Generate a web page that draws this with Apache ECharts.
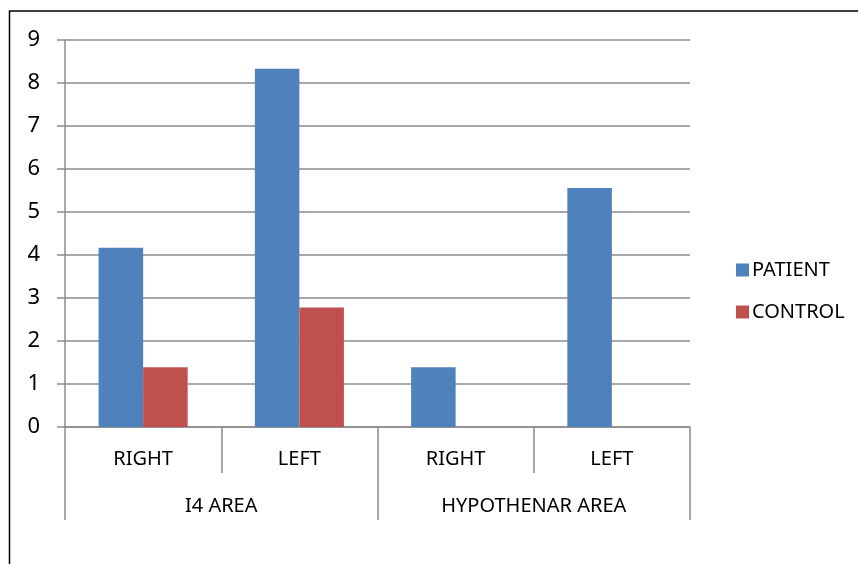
<!DOCTYPE html>
<html>
<head>
<meta charset="utf-8">
<script src="https://cdn.jsdelivr.net/npm/echarts@6/dist/echarts.min.js"></script>
<style>
  html, body { margin: 0; padding: 0; background: #fff; }
  #chart { width: 858px; height: 564px; }
</style>
</head>
<body>
<div id="chart"></div>
<script>
const chart = echarts.init(document.getElementById('chart'));

// inner and outer category levels
const sides = ["RIGHT", "LEFT", "RIGHT", "LEFT"];
const areas = ["I4 AREA", "HYPOTHENAR AREA"];

const patient = [4.17, 8.33, 1.39, 5.56];
const control = [1.39, 2.78, null, null];

const font = 'Noto Sans';
const gridGray = '#8c8c8c';

const option = {
  animation: false,
  textStyle: { fontFamily: font },
  grid: { left: 65, right: 168, top: 40, bottom: 137 },

  legend: {
    orient: 'vertical',
    left: 731,
    top: 255,
    itemWidth: 13,
    itemHeight: 13,
    itemGap: 22,
    itemStyle: { borderWidth: 0 },
    icon: 'rect',
    textStyle: { fontFamily: font, fontSize: 20, color: '#000', padding: [0, 0, 0, -2] },
    data: ['PATIENT', 'CONTROL']
  },

  xAxis: [
    {
      type: 'category',
      data: sides,
      position: 'bottom',
      axisLine: { show: true, lineStyle: { color: gridGray, width: 1.5 } },
      axisTick: { show: true, alignWithLabel: false, interval: 0, length: 46, lineStyle: { color: gridGray, width: 1.5 } },
      axisLabel: { color: '#000', fontSize: 20, margin: 22, fontFamily: font }
    },
    {
      type: 'category',
      data: areas,
      position: 'bottom',
      axisLine: { show: false },
      axisTick: { show: true, interval: 0, length: 93, lineStyle: { color: gridGray, width: 1.5 } },
      axisLabel: { color: '#000', fontSize: 20, margin: 69, fontFamily: font }
    }
  ],

  yAxis: {
    type: 'value',
    min: 0,
    max: 9,
    interval: 1,
    axisLine: { show: true, lineStyle: { color: gridGray, width: 1.5 } },
    axisTick: { show: true, inside: false, length: 8, lineStyle: { color: gridGray, width: 1.5 } },
    splitLine: { lineStyle: { color: gridGray, width: 1.5 } },
    axisLabel: { color: '#000', fontSize: 22, margin: 25, fontFamily: font }
  },

  series: [
    {
      name: 'PATIENT',
      type: 'bar',
      xAxisIndex: 0,
      data: patient,
      barGap: '0%',
      barCategoryGap: '43%',
      itemStyle: { color: '#4F81BD' }
    },
    {
      name: 'CONTROL',
      type: 'bar',
      xAxisIndex: 0,
      data: control,
      barGap: '0%',
      barCategoryGap: '43%',
      itemStyle: { color: '#C0504D' }
    }
  ],

  graphic: [{
    type: 'rect',
    shape: { x: 9.5, y: 11, width: 1000, height: 1000 },
    style: { fill: 'none', stroke: '#000', lineWidth: 1.5 },
    silent: true
  }]
};

chart.setOption(option);
</script>
</body>
</html>
